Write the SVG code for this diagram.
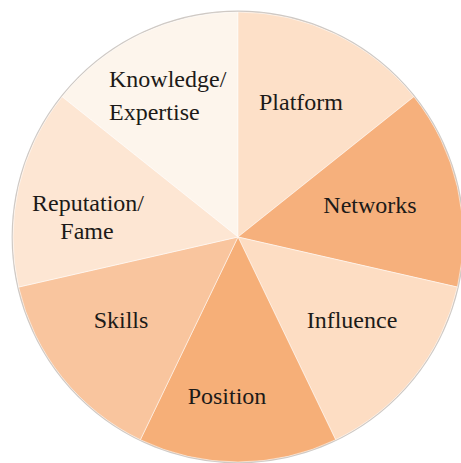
<svg xmlns="http://www.w3.org/2000/svg" width="461" height="463" viewBox="0 0 461 463">
<style>
.sl{stroke:#ffffff;stroke-width:0.8;stroke-opacity:0.6}
.lb{font-family:'Liberation Serif','DejaVu Serif','Noto Serif',serif;font-size:24px;fill:#1c1a18}
</style>
<rect width="461" height="463" fill="#ffffff"/>
<circle cx="238" cy="237" r="225.6" fill="none" stroke="#cfc9c4" stroke-width="1.6"/>
<g id="knowledge">
<path class="sl" d="M238,237 L62.09,96.71 A225,225 0 0 1 238,12 Z" fill="#FDF5EC"/>
<text class="lb" x="109" y="87" font-family="Liberation Serif, DejaVu Serif, serif">Knowledge/</text>
<text class="lb" x="109" y="120" font-family="Liberation Serif, DejaVu Serif, serif">Expertise</text>
</g>
<g id="platform">
<path class="sl" d="M238,237 L238,12 A225,225 0 0 1 413.91,96.71 Z" fill="#FDE0C8"/>
<text class="lb" x="259" y="110" font-family="Liberation Serif, DejaVu Serif, serif">Platform</text>
</g>
<g id="networks">
<path class="sl" d="M238,237 L413.91,96.71 A225,225 0 0 1 457.36,287.07 Z" fill="#F6B07C"/>
<text class="lb" x="370" y="213" text-anchor="middle" font-family="Liberation Serif, DejaVu Serif, serif">Networks</text>
</g>
<g id="influence">
<path class="sl" d="M238,237 L457.36,287.07 A225,225 0 0 1 335.62,439.72 Z" fill="#FDDDC3"/>
<text class="lb" x="352" y="328" text-anchor="middle" font-family="Liberation Serif, DejaVu Serif, serif">Influence</text>
</g>
<g id="position">
<path class="sl" d="M238,237 L335.62,439.72 A225,225 0 0 1 140.38,439.72 Z" fill="#F6AF78"/>
<text class="lb" x="227" y="404" text-anchor="middle" font-family="Liberation Serif, DejaVu Serif, serif">Position</text>
</g>
<g id="skills">
<path class="sl" d="M238,237 L140.38,439.72 A225,225 0 0 1 18.64,287.07 Z" fill="#F9C59E"/>
<text class="lb" x="121" y="328" text-anchor="middle" font-family="Liberation Serif, DejaVu Serif, serif">Skills</text>
</g>
<g id="reputation">
<path class="sl" d="M238,237 L18.64,287.07 A225,225 0 0 1 62.09,96.71 Z" fill="#FDE6D3"/>
<text class="lb" x="88" y="211" text-anchor="middle" font-family="Liberation Serif, DejaVu Serif, serif">Reputation/</text>
<text class="lb" x="87" y="239" text-anchor="middle" font-family="Liberation Serif, DejaVu Serif, serif">Fame</text>
</g>
</svg>
